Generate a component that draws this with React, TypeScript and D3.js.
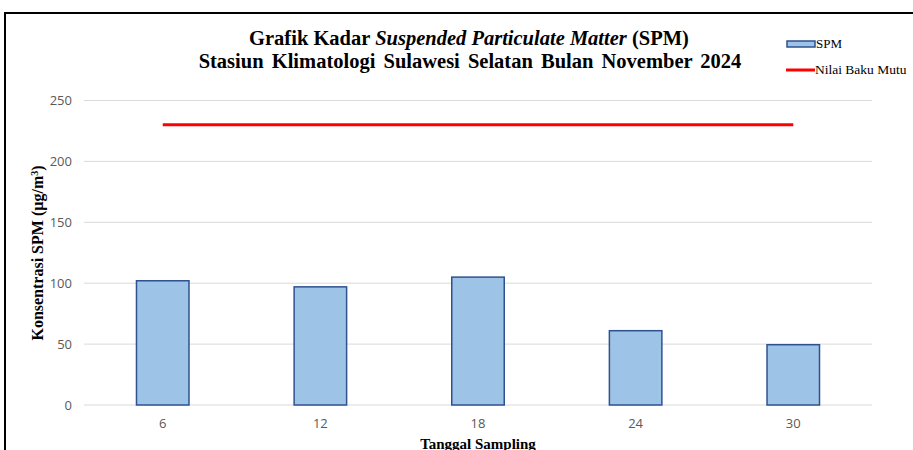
import React from 'react';
import * as d3 from 'd3';

const tanggal = ['6', '12', '18', '24', '30'];
const spm = [102, 97, 105, 61, 49.5];
const bakuMutu = [230, 230, 230, 230, 230];
const yTicks = [0, 50, 100, 150, 200, 250];

const W = 913;
const H = 450;
const plot = { left: 84, right: 872, top: 100.5, bottom: 405 };

const App = () => {
  const x = d3.scaleBand<string>()
    .domain(tanggal)
    .range([plot.left, plot.right])
    .paddingInner(0.667)
    .paddingOuter(0.333);
  const y = d3.scaleLinear().domain([0, 250]).range([plot.bottom, plot.top]);

  const line = d3.line<number>()
    .x((_, i) => (x(tanggal[i]) as number) + x.bandwidth() / 2)
    .y(d => y(d));

  const serif = '"Liberation Serif", "Times New Roman", serif';
  const sans = '"Open Sans", "Liberation Sans", sans-serif';

  return (
    <svg width={W} height={H} style={{ position: 'absolute', left: 0, top: 0 }}>
      <rect x={0} y={0} width={W} height={H} fill="#fff" />
      {/* frame of the chart area */}
      <rect x={5} y={13} width={W + 20} height={H + 20} fill="none" stroke="#000" strokeWidth={2} />

      {/* title */}
      <text x={469} y={45} textAnchor="middle" fontFamily={serif} fontWeight="bold" fontSize={20.5} fill="#000">
        Grafik Kadar <tspan fontStyle="italic">Suspended Particulate Matter</tspan> (SPM)
      </text>
      <text x={470} y={68} textAnchor="middle" fontFamily={serif} fontWeight="bold" fontSize={20.5} wordSpacing={3} fill="#000">
        Stasiun Klimatologi Sulawesi Selatan Bulan November 2024
      </text>

      {/* gridlines + y ticks */}
      {yTicks.map(t => (
        <g key={t}>
          <line x1={plot.left} x2={plot.right} y1={y(t)} y2={y(t)} stroke="#d9d9d9" strokeWidth={1} />
          <text x={72} y={y(t)} dy="0.35em" textAnchor="end" fontFamily={sans} fontSize={13} fill="#595959">
            {t}
          </text>
        </g>
      ))}

      {/* bars */}
      {spm.map((v, i) => (
        <rect
          key={tanggal[i]}
          x={x(tanggal[i])}
          y={y(v)}
          width={x.bandwidth()}
          height={y(0) - y(v)}
          fill="#9dc3e6"
          stroke="#2f528f"
          strokeWidth={1.5}
        />
      ))}

      {/* baku mutu line */}
      <path d={line(bakuMutu) || ''} fill="none" stroke="#ff0000" strokeWidth={3} />

      {/* x tick labels */}
      {tanggal.map(t => (
        <text key={t} x={(x(t) as number) + x.bandwidth() / 2} y={423} dy="0.35em" textAnchor="middle" fontFamily={sans} fontSize={13} fill="#595959">
          {t}
        </text>
      ))}

      {/* axis titles */}
      <text x={478} y={449} textAnchor="middle" fontFamily={serif} fontWeight="bold" fontSize={15} fill="#000">
        Tanggal Sampling
      </text>
      <text transform="translate(43,253) rotate(-90)" textAnchor="middle" fontFamily={serif} fontWeight="bold" fontSize={16} fill="#000">
        Konsentrasi SPM (µg/m<tspan baselineShift="super" fontSize={10}>3</tspan>)
      </text>

      {/* legend */}
      <rect x={787} y={41} width={28} height={6} fill="#9dc3e6" stroke="#2f528f" strokeWidth={1.5} />
      <text x={816} y={48} fontFamily={serif} fontSize={13} fill="#000">SPM</text>
      <line x1={786} x2={815} y1={70} y2={70} stroke="#ff0000" strokeWidth={3} />
      <text x={815} y={74} fontFamily={serif} fontSize={13.5} fill="#000">Nilai Baku Mutu</text>
    </svg>
  );
};

export default App;
